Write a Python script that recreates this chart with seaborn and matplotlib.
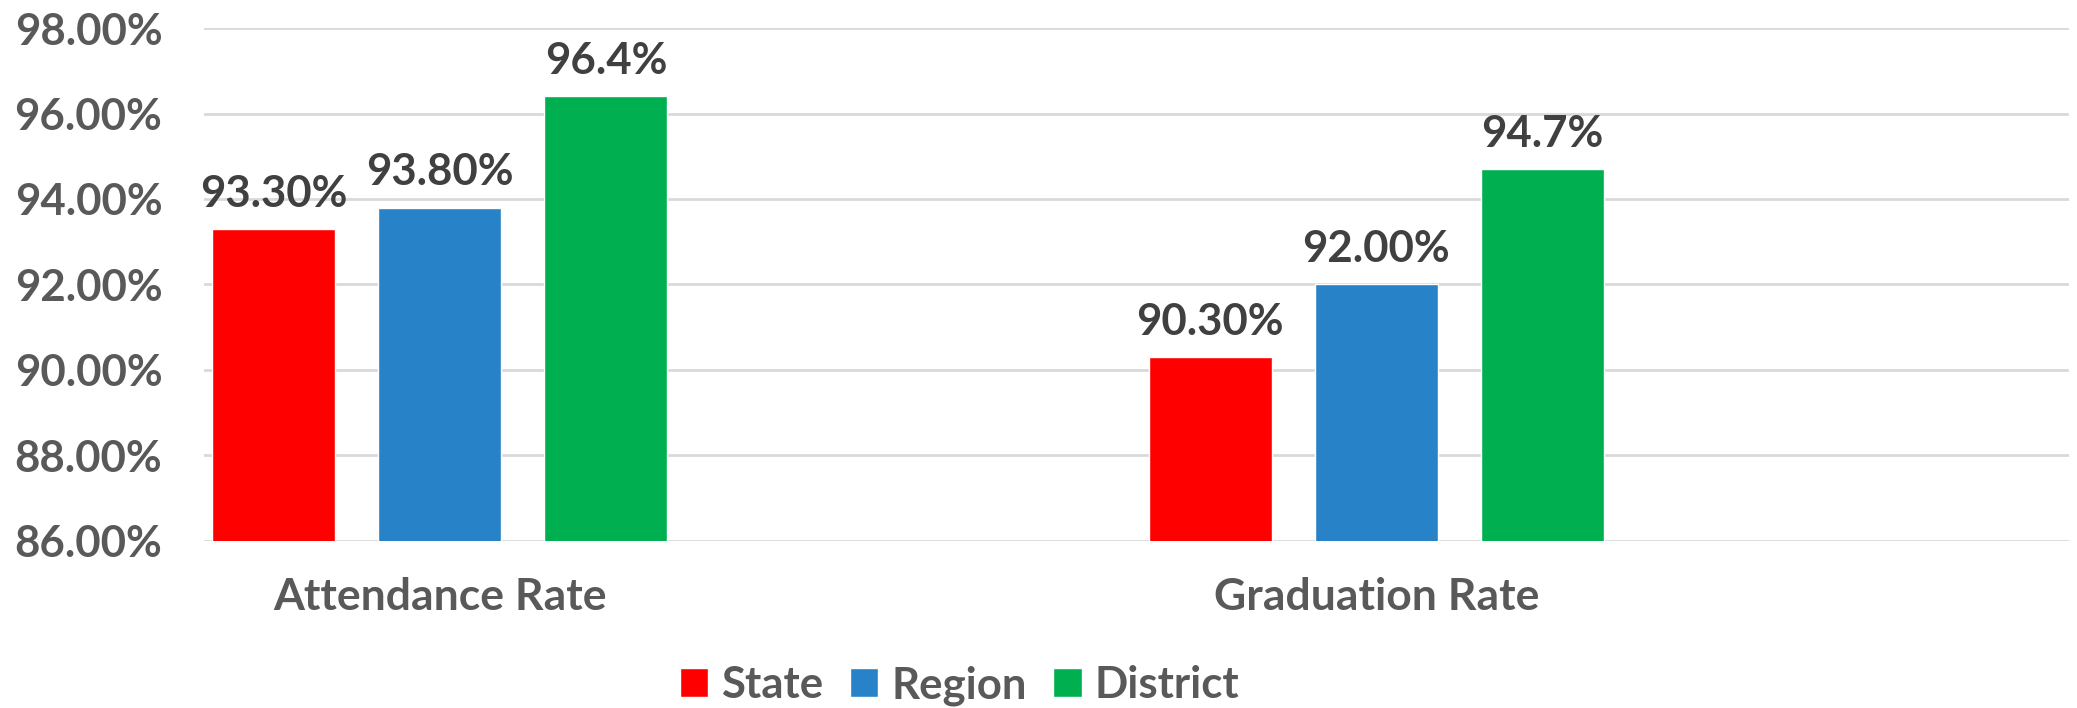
import matplotlib
matplotlib.use("Agg")
import matplotlib.pyplot as plt
import seaborn as sns
import pandas as pd
from matplotlib.patches import Patch

categories = ["Attendance Rate", "Graduation Rate"]
series = ["State", "Region", "District"]
state_vals = [93.3, 90.3]
region_vals = [93.8, 92.0]
district_vals = [96.4, 94.7]
state_labels = ["93.30%", "90.30%"]
region_labels = ["93.80%", "92.00%"]
district_labels = ["96.4%", "94.7%"]
y_ticks = [86, 88, 90, 92, 94, 96, 98]
colors = ["#ff0000", "#2882c8", "#00b050"]

rows = []
for s, vals, labs in zip(series, [state_vals, region_vals, district_vals],
                         [state_labels, region_labels, district_labels]):
    for c, v, l in zip(categories, vals, labs):
        rows.append({"category": c, "series": s, "value": v, "label": l})
df = pd.DataFrame(rows)

sns.set_style("white")
plt.rcParams["font.family"] = ["Lato", "DejaVu Sans"]
plt.rcParams["font.weight"] = "bold"

fig = plt.figure(figsize=(20.77, 7.08), dpi=100)
ax = fig.add_axes([0.0982, 0.236, 0.8980, 0.7244])

sns.barplot(data=df, x="category", y="value", hue="series",
            palette=colors, saturation=1, width=0.532, gap=0.259, ax=ax,
            legend=False, errorbar=None, zorder=3)

ax.set_ylim(86, 98)
ax.set_xlim(-0.252, 1.740)
ax.set_yticks(y_ticks)
ax.set_yticklabels([f"{t:.2f}%" for t in y_ticks])
ax.yaxis.grid(True, color="#d9d9d9", linewidth=2, zorder=0)
ax.set_axisbelow(True)
for sp in ax.spines.values():
    sp.set_visible(False)
ax.set_xlabel("")
ax.set_ylabel("")
ax.tick_params(axis="y", length=0, pad=30, labelsize=31.5, labelcolor="#595959")
ax.tick_params(axis="x", length=0, pad=26, labelsize=32, labelcolor="#595959")

# value labels above bars
for container, s in zip(ax.containers, series):
    labs = df[df["series"] == s]["label"].tolist()
    ax.bar_label(container, labels=labs, padding=11, fontsize=31.5,
                 color="#404040", fontweight="bold")

handles = [Patch(facecolor=c, label=s) for s, c in zip(series, colors)]
fig.legend(handles=handles, loc="center", bbox_to_anchor=(0.462, 0.032),
           ncol=3, frameon=False, fontsize=31.5, handlelength=0.65,
           handleheight=0.65, handletextpad=0.3, columnspacing=0.6,
           labelcolor="#595959")

fig.savefig("out.png", dpi=100)
